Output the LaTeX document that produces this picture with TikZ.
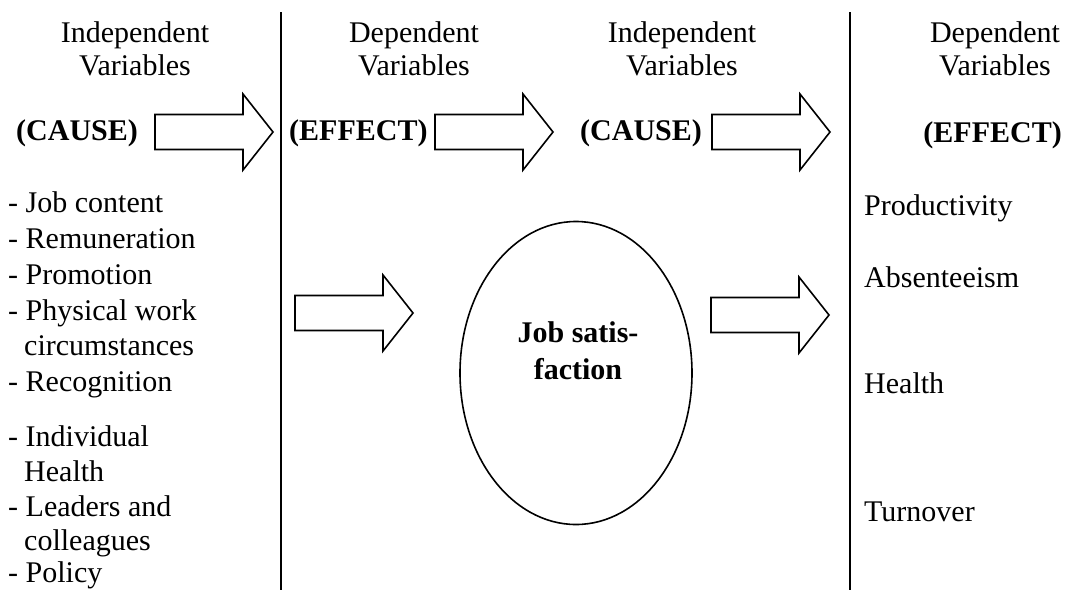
\documentclass[tikz,border=0pt]{standalone}
\usepackage{fontspec}
\setmainfont{Liberation Serif}
\usetikzlibrary{shapes.geometric}
\begin{document}
\begin{tikzpicture}[x=1pt,y=-1pt,
  txt/.style={inner sep=0pt,font=\fontsize{30}{34}\selectfont},
  lbl/.style={txt,anchor=base west},
  hdr/.style={txt,anchor=base},
  bold/.style={txt,anchor=base west,font=\fontsize{30}{34}\selectfont\bfseries},
  sep/.style={line width=1.6pt},
  blockarrow/.pic={\draw[line width=1.6pt,line join=miter,fill=white]
     (0,-17.5) -- (88,-17.5) -- (88,-38) -- (118,0) -- (88,38) -- (88,17.5) -- (0,17.5) -- cycle;}]
\useasboundingbox (0,0) rectangle (1066,590);
% separators
\coordinate (s1t) at (281,12); \coordinate (s1b) at (281,590);
\coordinate (s2t) at (850,12); \coordinate (s2b) at (850,590);
\draw[sep] (s1t) -- (s1b);
\draw[sep] (s2t) -- (s2b);
% headers
\node[hdr] (h1a) at (135,42) {Independent};
\node[hdr] (h1b) at (135,75) {Variables};
\node[hdr] (h2a) at (414,42) {Dependent};
\node[hdr] (h2b) at (414,75) {Variables};
\node[hdr] (h3a) at (682,42) {Independent};
\node[hdr] (h3b) at (682,75) {Variables};
\node[hdr] (h4a) at (995,42) {Dependent};
\node[hdr] (h4b) at (995,75) {Variables};
% cause/effect labels
\node[bold] (c1) at (16,140) {(CAUSE)};
\node[bold] (e1) at (289,140) {(EFFECT)};
\node[bold] (c2) at (580,140) {(CAUSE)};
\node[bold,anchor=base east] (e2) at (1062,142) {(EFFECT)};
% top arrows
\pic (a1) at (155,132) {blockarrow};
\pic (a2) at (435,132) {blockarrow};
\pic (a3) at (712,132) {blockarrow};
% middle arrows
\pic (a4) at (295,313) {blockarrow};
\pic (a5) at (711,315) {blockarrow};
% list
\node[lbl] (l1) at (8,212) {- Job content};
\node[lbl] (l2) at (8,248) {- Remuneration};
\node[lbl] (l3) at (8,284) {- Promotion};
\node[lbl] (l4) at (8,320) {- Physical work};
\node[lbl] (l4b) at (24,355) {circumstances};
\node[lbl] (l5) at (8,391) {- Recognition};
\node[lbl] (l6) at (8,446) {- Individual};
\node[lbl] (l6b) at (24,481) {Health};
\node[lbl] (l7) at (8,516) {- Leaders and};
\node[lbl] (l7b) at (24,550) {colleagues};
\node[lbl] (l8) at (8,582) {- Policy};
% ellipse
\node[draw,ellipse,line width=1.6pt,minimum width=232pt,minimum height=303pt,inner sep=0pt] (js) at (576,373) {};
\node[hdr,font=\fontsize{30}{34}\selectfont\bfseries] (jst1) at (578,342) {Job satis-};
\node[hdr,font=\fontsize{30}{34}\selectfont\bfseries] (jst2) at (578,379) {faction};
% outcomes
\node[lbl] (o1) at (864,215) {Productivity};
\node[lbl] (o2) at (864,287) {Absenteeism};
\node[lbl] (o3) at (864,393) {Health};
\node[lbl] (o4) at (864,521) {Turnover};
\end{tikzpicture}
\end{document}
